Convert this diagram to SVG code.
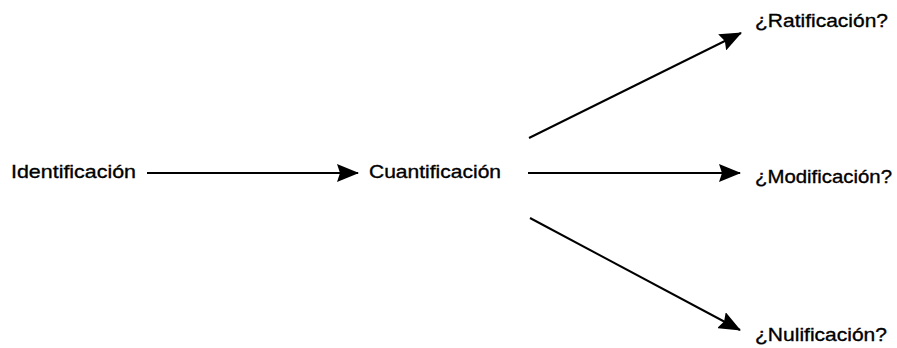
<svg xmlns="http://www.w3.org/2000/svg" width="897" height="348" viewBox="0 0 897 348">
<defs>
<style>
.lbl{font-family:"Liberation Sans",Arial,sans-serif;font-size:19px;fill:#000;stroke:#000;stroke-width:0.35;}
.con{stroke:#000;stroke-width:2;fill:none;marker-end:url(#ah);}
</style>
<marker id="ah" viewBox="0 0 22 18" refX="21" refY="9" markerWidth="22" markerHeight="18" markerUnits="userSpaceOnUse" orient="auto">
<path d="M0,0 L22,9 L0,18 L3,9 Z" fill="#000"/>
</marker>
</defs>
<rect width="897" height="348" fill="#fff"/>
<g id="identificacion"><text class="lbl" x="11" y="178" textLength="125" lengthAdjust="spacingAndGlyphs">Identificación</text></g>
<g id="cuantificacion"><text class="lbl" x="369" y="178" textLength="132" lengthAdjust="spacingAndGlyphs">Cuantificación</text></g>
<g id="ratificacion"><text class="lbl" x="755" y="27" textLength="133" lengthAdjust="spacingAndGlyphs">¿Ratificación?</text></g>
<g id="modificacion"><text class="lbl" x="755" y="183" textLength="137" lengthAdjust="spacingAndGlyphs">¿Modificación?</text></g>
<g id="nulificacion"><text class="lbl" x="755" y="341" textLength="132" lengthAdjust="spacingAndGlyphs">¿Nulificación?</text></g>
<g id="connectors">
<line class="con" x1="147" y1="173" x2="358" y2="173"/>
<line class="con" x1="529" y1="138" x2="741" y2="33"/>
<line class="con" x1="528" y1="173" x2="740" y2="173"/>
<line class="con" x1="530" y1="218" x2="740" y2="330"/>
</g>
</svg>
